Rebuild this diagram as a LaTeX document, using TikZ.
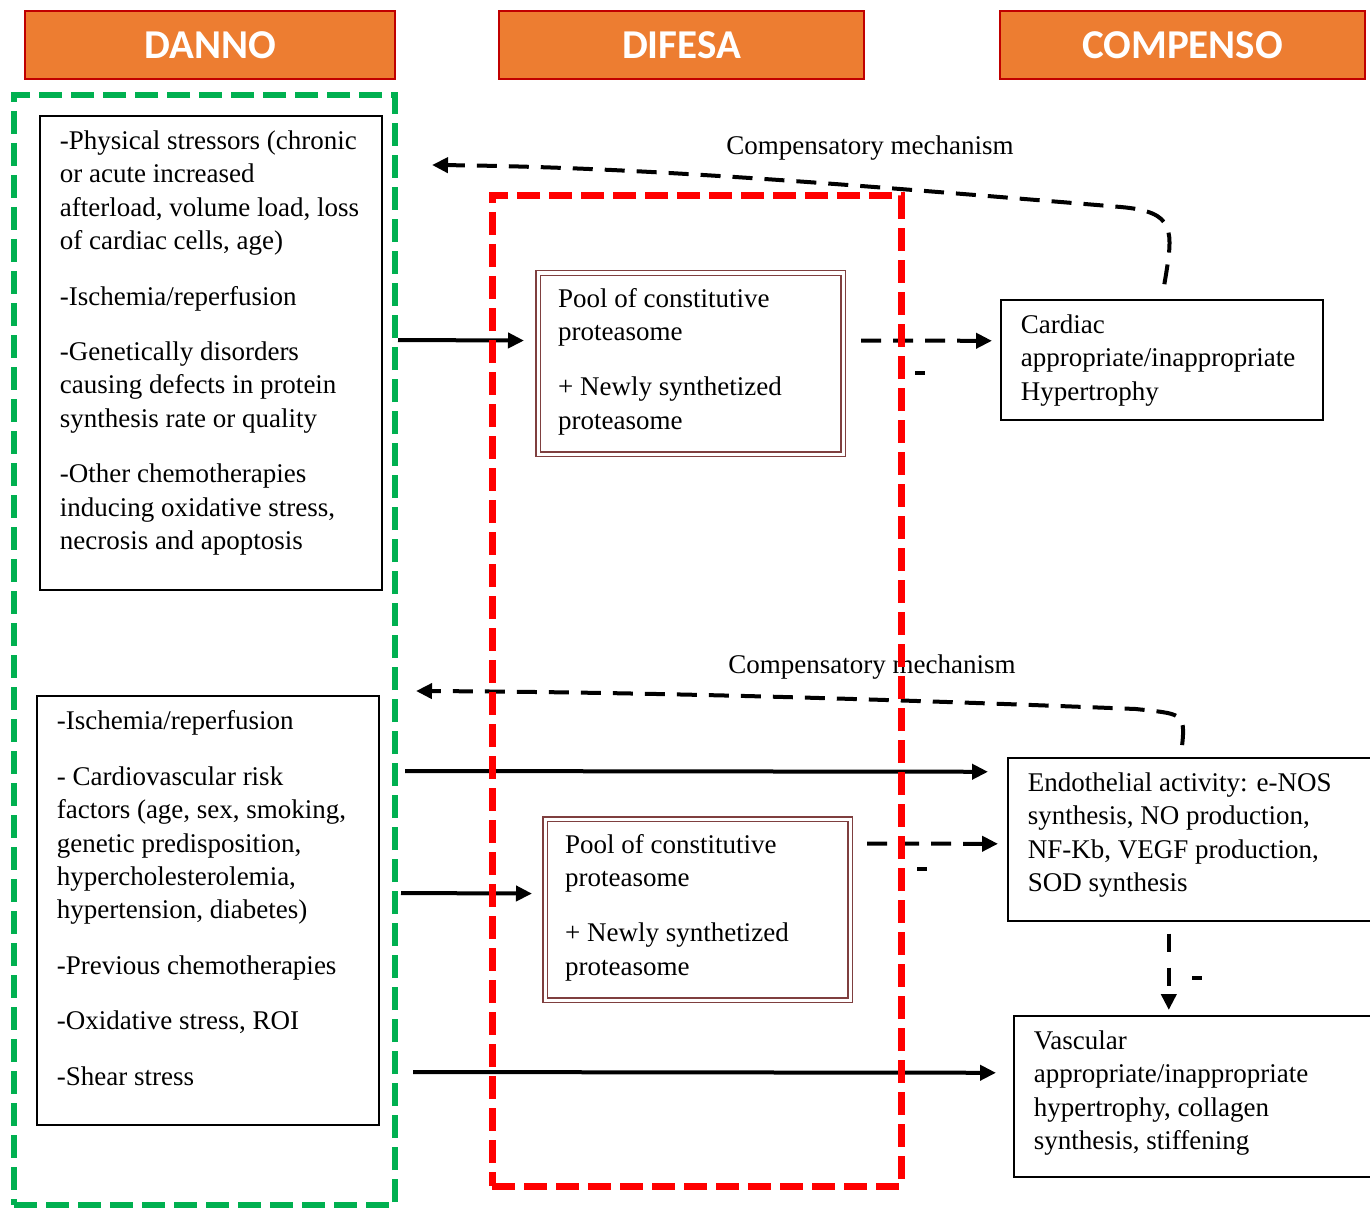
\documentclass[tikz,border=0pt]{standalone}
\usepackage{fontspec}
\setmainfont{Liberation Serif}
\newfontfamily\hdrfont{Carlito}
\usetikzlibrary{arrows.meta,positioning}
\definecolor{protorange}{HTML}{ED7D31}
\definecolor{protdarkred}{HTML}{C00000}
\definecolor{protgreen}{HTML}{00B050}
\definecolor{protred}{HTML}{FF0000}
\definecolor{protbrown}{HTML}{7F3F3F}
\newcommand{\boxtext}[3]{\parbox[t][#1][t]{#2}{\raggedright #3}}
\newcommand{\minusbar}{\rule{5pt}{2pt}}
\tikzset{
  header/.style={rectangle,fill=protorange,draw=protdarkred,line width=1pt,text=white,
    font=\hdrfont\bfseries\fontsize{20.5}{24}\selectfont,minimum width=182.5pt,minimum height=34pt,inner sep=0pt},
  txtbox/.style={rectangle,draw,line width=.8pt,anchor=north west,inner xsep=10pt,inner ysep=7.5pt},
  poolbox/.style={txtbox,draw=protbrown,line width=.6pt,double=white,double distance=1.6pt},
  zone/.style={rectangle,dash pattern=on 11.5pt off 4.5pt,inner sep=0pt},
  arr/.style={-{Triangle[length=8pt,width=7.5pt]},line width=2pt},
  dasharr/.style={arr,dash pattern=on 10pt off 6pt},
  note/.style={inner sep=1pt},
  minusmark/.style={inner sep=0pt}
}

\begin{document}
\begin{tikzpicture}[x=0.5pt,y=-0.5pt,font=\fontsize{13.5}{16.7}\selectfont]
  \useasboundingbox (0,0) rectangle (1370,1209);
  \clip (0,0) rectangle (1370,1209);
  % column headers
  \node[header,anchor=north west,minimum width=185pt] (hdanno) at (24,10) {DANNO};
  \node[header,right=51pt of hdanno] (hdifesa) {DIFESA};
  \node[header,right=67pt of hdifesa] (hcomp) {COMPENSO};
  \node[zone,draw=protgreen,line width=3pt,minimum width=190.5pt,minimum height=555pt] (danno) at (204.5,650) {};
  % damage
  \node[txtbox] (stress1) at (39,115) {\boxtext{222pt}{151pt}{%
    -Physical stressors (chronic\\ or acute increased\\ afterload, volume load, loss\\ of cardiac cells, age)\\[11pt]
    -Ischemia/reperfusion\\[11pt]
    -Genetically disorders\\ causing defects in protein\\ synthesis rate or quality\\[11pt]
    -Other chemotherapies\\ inducing oxidative stress,\\ necrosis and apoptosis}};
  \node[txtbox] (stress2) at (36,695) {\boxtext{199.5pt}{151pt}{%
    -Ischemia/reperfusion\\[11pt]
    - Cardiovascular risk\\ factors (age, sex, smoking,\\ genetic predisposition,\\ hypercholesterolemia,\\ hypertension, diabetes)\\[11pt]
    -Previous chemotherapies\\[11pt]
    -Oxidative stress, ROI\\[11pt]
    -Shear stress}};
  % defence
  \node[poolbox] (pool1) at (537.5,272.5) {\boxtext{75.5pt}{132.5pt}{%
    Pool of constitutive\\ proteasome\\[11pt] + Newly synthetized\\ proteasome}};
  \node[poolbox] (pool2) at (544.5,818.5) {\boxtext{75.5pt}{132.5pt}{%
    Pool of constitutive\\ proteasome\\[11pt] + Newly synthetized\\ proteasome}};
  % compensation
  \node[txtbox] (cardiac) at (1000,299) {\boxtext{45pt}{141pt}{%
    Cardiac\\ appropriate/inappropriate\\ Hypertrophy}};
  \node[txtbox] (endo) at (1007,757) {\boxtext{66.5pt}{171.5pt}{%
    Endothelial activity: e-NOS\\ synthesis, NO production,\\ NF-Kb, VEGF production,\\ SOD synthesis}};
  \node[txtbox] (vasc) at (1013,1015) {\boxtext{65.5pt}{168.5pt}{%
    Vascular\\ appropriate/inappropriate\\ hypertrophy, collagen\\ synthesis, stiffening}};
  \node[note] (comp1) at (870,148) {Compensatory mechanism};
  \node[note] (comp2) at (872,667) {Compensatory mechanism};
  \coordinate (fb1end) at (432,165);
  \coordinate (fb2end) at (416,691);
  % arrows
  \draw[arr,shorten >=6.75pt] ([yshift=155pt]danno.east) -- ([yshift=11.5pt]pool1.west);
  \draw[dasharr,shorten <=8.75pt,shorten >=4pt] ([yshift=11.5pt]pool1.east) -- ([yshift=9.5pt]cardiac.west);
  \draw[arr,shorten <=3.5pt,shorten >=9.5pt] ([yshift=-60.5pt]danno.east) -- ([yshift=33.75pt]endo.west);
  \draw[arr,shorten <=1.5pt,shorten >=6.25pt] ([yshift=-121.5pt]danno.east) -- ([yshift=8pt]pool2.west);
  \draw[dasharr,shorten <=8.25pt,shorten >=4.5pt] ([yshift=33pt]pool2.east) -- ([yshift=-2.25pt]endo.west);
  \draw[arr,shorten <=7.5pt,shorten >=8.5pt] ([yshift=-211pt]danno.east) -- ([yshift=11.75pt]vasc.west);
  \draw[dasharr,dash pattern=on 9pt off 8pt,shorten <=6pt,shorten >=2.5pt] ([xshift=-15.25pt]endo.south) -- ([xshift=-16.75pt]vasc.north);
  \draw[dasharr,shorten <=7.5pt] (cardiac.north) .. controls +(12,-70) and +(55,5) .. ++(-41,-92)
    .. controls +(-300,-25) and +(200,2) .. (fb1end);
  \draw[dasharr,shorten <=6pt] ([xshift=-9.25pt]endo.north) .. controls +(5,-45) and +(45,5) .. ++(-45,-48)
    .. controls +(-300,-12) and +(200,1) .. (fb2end);
  \node[minusmark] (m1) at (920,373) {\minusbar};
  \node[minusmark] (m2) at (922,869) {\minusbar};
  \node[minusmark] (m3) at (1197,978) {\minusbar};
  \node[zone,draw=protred,line width=3.5pt,minimum width=204.5pt,minimum height=495pt] (difesa) at (696.5,691) {};
\end{tikzpicture}
\end{document}
